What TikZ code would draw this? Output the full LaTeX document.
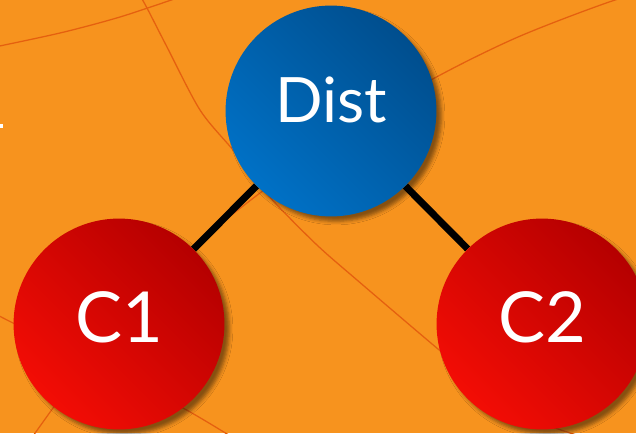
\documentclass[tikz,border=0pt]{standalone}
\usepackage{fontspec}
\setmainfont{Lato}
\usetikzlibrary{backgrounds,shadows.blur}

\definecolor{bgorange}{HTML}{F7931E}
\definecolor{lineorange}{HTML}{E5600F}
\definecolor{bluelight}{HTML}{0071C6}
\definecolor{bluedark}{HTML}{004E8E}
\definecolor{redlight}{HTML}{F30D05}
\definecolor{reddark}{HTML}{B50000}

\begin{document}
\begin{tikzpicture}[
  x=0.025cm, y=-0.025cm,
  bubble/.style={circle, minimum size=5.27cm, inner sep=0pt, text=white,
                 blur shadow={shadow xshift=3.5pt, shadow yshift=-3.5pt,
                              shadow blur radius=2.5pt, shadow opacity=45}},
  distnode/.style={bubble, top color=bluedark, bottom color=bluelight,
                   shading angle=-45, font=\fontsize{44.5}{50}\selectfont,
                   text height=33pt, text depth=17pt},
  clientnode/.style={bubble, top color=reddark, bottom color=redlight,
                     shading angle=-45, font=\fontsize{50}{56}\selectfont,
                     text height=36pt, text depth=9pt},
  link/.style={line width=5pt, black},
  trace/.style={line width=0.9pt, lineorange}
]
  \useasboundingbox (0,0) rectangle (636,433);

  \node[distnode] (dist) at (331,111) {Dist};
  \node[clientnode] (c1) at (119,324) {C1};
  \node[clientnode] (c2) at (542,324) {C2};

  \begin{scope}[on background layer]
    \clip (0,0) rectangle (636,433);
    \fill[bgorange] (0,0) rectangle (636,433);
    % thin curves in the backdrop
    \draw[trace] plot[smooth] coordinates {(-10,48) (60,33) (120,17) (180,-3)};
    \draw[trace] plot[smooth] coordinates {(138,-8) (147,8) (167,47) (200,110)
      (233,150) (260,185) (277,205) (318,246) (357,280) (438,349) (500,400)
      (550,426) (610,445)};
    \draw[trace] plot[smooth] coordinates {(660,-10) (615,0) (518,37) (431,80)
      (340,135) (260,193) (200,240)};
    \draw[trace] plot[smooth] coordinates {(-10,311) (13,323) (100,366) (183,408) (240,442)};
    \draw[trace] (28,443) -- (53,408) -- (100,350);
    \fill[white] (0,124) rectangle (3,128);

    \draw[link] (dist) -- (c1);
    \draw[link] (dist) -- (c2);
  \end{scope}
\end{tikzpicture}
\end{document}
